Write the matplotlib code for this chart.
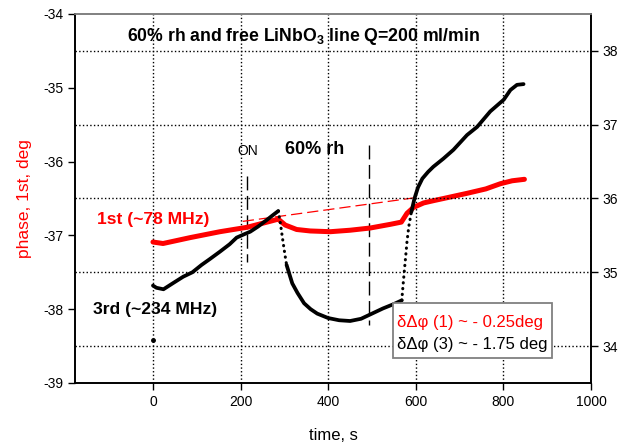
import matplotlib
matplotlib.use('Agg')
import matplotlib.pyplot as plt
from matplotlib.patches import Rectangle

plt.rcParams['font.family'] = ['Liberation Sans', 'DejaVu Sans']
plt.rcParams['axes.unicode_minus'] = False
plt.rcParams['mathtext.fontset'] = 'custom'
plt.rcParams['mathtext.rm'] = 'Liberation Sans'
plt.rcParams['mathtext.bf'] = 'Liberation Sans:bold'

# 1st harmonic (~78 MHz), left axis
t_1st = [0, 23, 85, 153, 215, 267, 286, 302, 328, 359, 405, 450, 496, 542, 567,
         580, 595, 618, 640, 671, 717, 760, 793, 820, 848]
ph_1st = [-37.09, -37.11, -37.03, -36.95, -36.89, -36.81, -36.78, -36.86, -36.92,
          -36.94, -36.95, -36.93, -36.90, -36.85, -36.82, -36.70, -36.62, -36.56,
          -36.53, -36.49, -36.43, -36.37, -36.30, -36.26, -36.24]

# baseline drift guess (thin dashed red)
t_base = [205, 598]
ph_base = [-36.81, -36.49]

# 3rd harmonic (~234 MHz), right axis, split where the trace is sparse (dotted)
t_3rd_a = [0, 8, 24, 45, 69, 90, 111, 130, 153, 175, 191, 210, 222, 240, 260, 275, 286]
ph_3rd_a = [34.82, 34.79, 34.77, 34.85, 34.94, 35.00, 35.10, 35.18, 35.28, 35.38,
            35.47, 35.52, 35.55, 35.62, 35.71, 35.78, 35.83]
t_3rd_b = [286, 290, 296, 301, 305]
ph_3rd_b = [35.83, 35.70, 35.45, 35.25, 35.10]
t_3rd_c = [305, 318, 330, 345, 360, 375, 400, 425, 450, 475, 500, 525, 550, 568]
ph_3rd_c = [35.10, 34.85, 34.72, 34.58, 34.50, 34.44, 34.38, 34.35, 34.34, 34.37,
            34.44, 34.51, 34.57, 34.62]
t_3rd_d = [568, 571, 574, 577, 580, 584, 590]
ph_3rd_d = [34.62, 34.83, 35.03, 35.22, 35.42, 35.62, 35.82]
t_3rd_e = [590, 597, 605, 615, 628, 640, 663, 686, 717, 740, 770, 801, 816, 831, 846]
ph_3rd_e = [35.82, 36.00, 36.15, 36.27, 36.36, 36.43, 36.54, 36.66, 36.86, 36.97,
            37.18, 37.34, 37.47, 37.54, 37.55]
t_stray, ph_stray = [0], [34.08]

# gas ON / OFF markers
t_on, t_off = 215, 493

fig = plt.figure(figsize=(6.27, 4.47), dpi=100)
ax = fig.add_axes([0.1196, 0.1432, 0.8230, 0.8255])
ax2 = ax.twinx()

red = '#ff0000'
ax.plot(t_1st, ph_1st, color=red, lw=3.6, solid_capstyle='round', zorder=3)
ax.plot(t_base, ph_base, color=red, lw=0.9, dashes=(9, 4), zorder=3)
ax.plot([t_on, t_on], [-36.2, -37.36], color='black', lw=1, dashes=(10, 4))
ax.plot([t_off, t_off], [-35.77, -38.21], color='black', lw=1, dashes=(10, 4))

dots = dict(color='black', lw=2.2, linestyle=(0, (0.1, 1.8)), dash_capstyle='round')
solid = dict(color='black', lw=2.7, solid_capstyle='round')
ax2.plot(t_3rd_a, ph_3rd_a, **solid)
ax2.plot(t_3rd_b, ph_3rd_b, **dots)
ax2.plot(t_3rd_c, ph_3rd_c, **solid)
ax2.plot(t_3rd_d, ph_3rd_d, **dots)
ax2.plot(t_3rd_e, ph_3rd_e, **solid)
ax2.plot(t_stray, ph_stray, 'o', color='black', ms=2.5)

ax.set_xlim(-178, 1000)
ax.set_ylim(-39, -34)
ax2.set_ylim(33.5, 38.5)
ax.set_xticks([0, 200, 400, 600, 800, 1000])
ax.set_yticks([-39, -38, -37, -36, -35, -34])
ax2.set_yticks([34, 35, 36, 37, 38])

ax.grid(axis='x', linestyle=':', color='black', lw=1)
ax2.grid(axis='y', linestyle=':', color='black', lw=1)
ax2.set_axisbelow(True)

for a in (ax, ax2):
    a.tick_params(labelsize=10, direction='out', length=5, width=1)
    a.spines['top'].set_color('#808080')
    a.spines['top'].set_linewidth(1.2)
    for s in ('left', 'right', 'bottom'):
        a.spines[s].set_linewidth(1.2)

ax.set_xlabel('time, s', fontsize=12, labelpad=14)
ax.set_ylabel('phase, 1st, deg', fontsize=12.5, color=red, labelpad=8)

ax.text(-59, -34.31, r'60% rh and free LiNbO$_\mathbf{3}$ line Q=200 ml/min',
        fontsize=12.7, fontweight='bold', va='center')
ax.text(-128, -36.78, '1st (~78 MHz)', fontsize=12.6, fontweight='bold',
        color=red, va='center')
ax.text(-137, -38.01, '3rd (~234 MHz)', fontsize=12.6, fontweight='bold', va='center')
ax.text(192, -35.86, 'ON', fontsize=10, va='center')
ax.text(302, -35.84, '60% rh', fontsize=13, fontweight='bold', va='center')

ax2.add_patch(Rectangle((0.616, 0.068), 0.308, 0.149, transform=ax2.transAxes,
                        facecolor='white', edgecolor='#808080', lw=1.3, zorder=5))
ax2.text(0.624, 0.163, 'δΔφ (1) ~ - 0.25deg', transform=ax2.transAxes,
         fontsize=12, color=red, va='center', zorder=6)
ax2.text(0.624, 0.103, 'δΔφ (3) ~ - 1.75 deg', transform=ax2.transAxes,
         fontsize=12, color='black', va='center', zorder=6)

fig.savefig('out.png', dpi=100)
